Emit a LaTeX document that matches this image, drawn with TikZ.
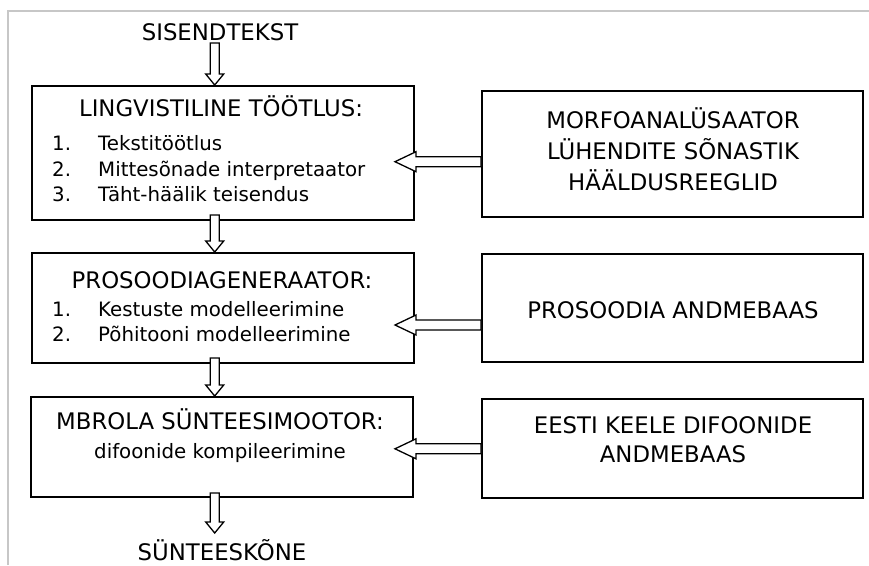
\documentclass[tikz,border=0pt]{standalone}
\usepackage{fontspec}
\setmainfont{DejaVu Sans}
\usetikzlibrary{calc}
\newcommand\hollowarrow[5]{%
  \coordinate (ha-b) at ($(#2)!#5!(#1)$);
  \draw[arrowline] ($(#1)!#3!90:(#2)$) -- ($(ha-b)!#3!90:(#2)$) -- ($(ha-b)!#4!90:(#2)$) -- (#2)
    -- ($(ha-b)!#4!-90:(#2)$) -- ($(ha-b)!#3!-90:(#2)$) -- ($(#1)!#3!-90:(#2)$) -- cycle;}
\begin{document}
\begin{tikzpicture}[x=1pt,y=-1pt,
  box/.style={draw=black, line width=2pt, rectangle, inner sep=0pt, minimum width=382pt},
  caps/.style={font=\fontsize{22.8}{27}\selectfont, inner sep=0pt, text=black},
  item/.style={font=\fontsize{19.8}{23}\selectfont, inner sep=0pt, anchor=base west, text=black},
  arrowline/.style={draw=black, line width=1.3pt, fill=white, line join=miter},
  frame/.style={draw=black!22, line width=2pt}]
\useasboundingbox (0,0) rectangle (869,565);
\draw[frame] (8,565) -- (8,11) -- (869,11);

% left boxes
\node[box, minimum height=134pt] (box1) at (223,153) {};
\node[box, minimum height=110pt] (box2) at (223,308) {};
\node[box, minimum height=100pt] (box3) at (222,447) {};
% right boxes
\node[box, minimum width=381pt, minimum height=126pt] (db1) at (672.5,154) {};
\node[box, minimum width=381pt, minimum height=108pt] (db2) at (672.5,308) {};
\node[box, minimum width=381pt, minimum height=99pt] (db3) at (672.5,448.5) {};

% texts
\node[caps, anchor=base] (in) at (220,40) {SISENDTEKST};
\node[caps, anchor=base] (t1) at (221,116) {LINGVISTILINE TÖÖTLUS:};
\node[item] (n11) at (52,150) {1.};
\node[item] (i11) at (98,150) {Tekstitöötlus};
\node[item] (n12) at (52,176) {2.};
\node[item] (i12) at (98,176) {Mittesõnade interpretaator};
\node[item] (n13) at (52,201) {3.};
\node[item] (i13) at (98,201) {Täht-häälik teisendus};

\node[caps, anchor=base] (t2) at (222,288) {PROSOODIAGENERAATOR:};
\node[item] (n21) at (52,316.5) {1.};
\node[item] (i21) at (98,316.5) {Kestuste modelleerimine};
\node[item] (n22) at (52,341) {2.};
\node[item] (i22) at (98,341) {Põhitooni modelleerimine};

\node[caps, anchor=base] (t3) at (220,429) {MBROLA SÜNTEESIMOOTOR:};
\node[item, anchor=base] (i31) at (220,458) {difoonide kompileerimine};

\node[caps, anchor=base] (out) at (222,560) {SÜNTEESKÕNE};

\node[caps, anchor=base] (d11) at (673,128) {MORFOANALÜSAATOR};
\node[caps, anchor=base] (d12) at (673,159) {LÜHENDITE SÕNASTIK};
\node[caps, anchor=base] (d13) at (673,190) {HÄÄLDUSREEGLID};
\node[caps, anchor=base] (d21) at (673,318) {PROSOODIA ANDMEBAAS};
\node[caps, anchor=base] (d31) at (673,433) {EESTI KEELE DIFOONIDE};
\node[caps, anchor=base] (d32) at (673,462) {ANDMEBAAS};

% vertical arrows
\coordinate (a1s) at (214.7,43);
\coordinate (a1e) at (a1s |- box1.north);
\path (box1.south) ++(-8.3,-6) coordinate (a2s);
\coordinate (a2e) at (a2s |- box2.north);
\path (box2.south) ++(-8.3,-6) coordinate (a3s);
\coordinate (a3e) at (a3s |- box3.north);
\path (box3.south) ++(-7.3,-5) coordinate (a4s);
\coordinate (a4e) at (214.7,533);
\hollowarrow{a1s}{a1e}{4.5pt}{9pt}{11pt}
\hollowarrow{a2s}{a2e}{4.5pt}{9pt}{11pt}
\hollowarrow{a3s}{a3e}{4.5pt}{9pt}{11pt}
\hollowarrow{a4s}{a4e}{4.5pt}{9pt}{11pt}

% horizontal arrows
\path (db1.west) ++(0,7.7) coordinate (h1s);
\path (box1.east) ++(-20,0) coordinate (h1x);
\coordinate (h1e) at (h1x |- h1s);
\path (db2.west) ++(0,17) coordinate (h2s);
\path (box2.east) ++(-20,0) coordinate (h2x);
\coordinate (h2e) at (h2x |- h2s);
\path (db3.west) ++(0,0.3) coordinate (h3s);
\path (box3.east) ++(-19,0) coordinate (h3x);
\coordinate (h3e) at (h3x |- h3s);
\hollowarrow{h1s}{h1e}{5pt}{10pt}{21pt}
\hollowarrow{h2s}{h2e}{5pt}{10pt}{21pt}
\hollowarrow{h3s}{h3e}{5pt}{10pt}{21pt}
\end{tikzpicture}
\end{document}
